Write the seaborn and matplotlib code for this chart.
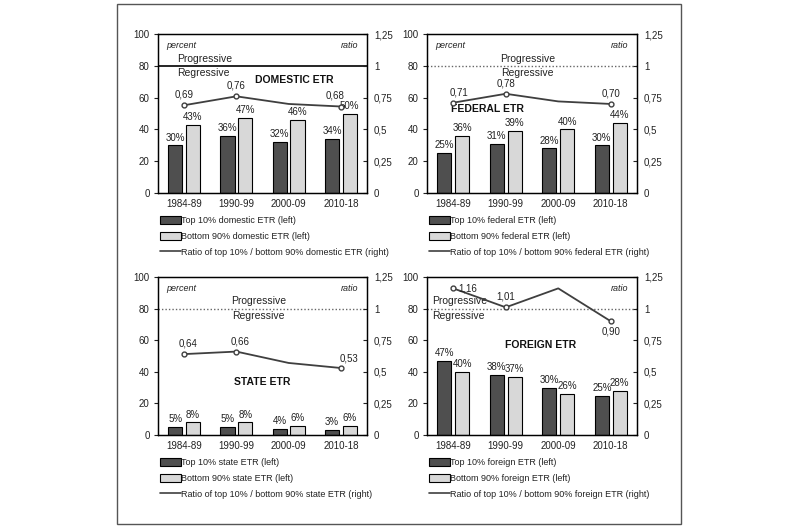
import numpy as np
import pandas as pd
import matplotlib
matplotlib.use("Agg")
import matplotlib.pyplot as plt
import seaborn as sns
from matplotlib.patches import Rectangle, Patch
from matplotlib.lines import Line2D

sns.set_theme(style="white")
plt.rcParams['font.family'] = ['Liberation Sans', 'DejaVu Sans']

periods = ["1984-89", "1990-99", "2000-09", "2010-18"]

domestic_top = [30, 36, 32, 34]
domestic_bottom = [43, 47, 46, 50]
domestic_ratio = [0.69, 0.76, 0.70, 0.68]

federal_top = [25, 31, 28, 30]
federal_bottom = [36, 39, 40, 44]
federal_ratio = [0.71, 0.78, 0.72, 0.70]

state_top = [5, 5, 4, 3]
state_bottom = [8, 8, 6, 6]
state_ratio = [0.64, 0.66, 0.57, 0.53]

foreign_top = [47, 38, 30, 25]
foreign_bottom = [40, 37, 26, 28]
foreign_ratio = [1.16, 1.01, 1.16, 0.90]

labeled_points = [0, 1, 3]

DARK = "#4f4f4f"
LIGHT = "#d8d8d8"
LINE = "#3f3f3f"

fig = plt.figure(figsize=(8, 5.3), dpi=100)
fig.patch.set_facecolor("white")
fig.add_artist(Rectangle((117/800, 1-524/530), (681-117)/800, (524-4)/530,
                         transform=fig.transFigure, fill=False,
                         edgecolor="#555555", linewidth=1.0))

panels = [
    dict(name="domestic", title="DOMESTIC ETR", top=domestic_top, bottom=domestic_bottom,
         ratio=domestic_ratio, pos=(158, 34, 367, 193), solid=True,
         title_xy=(0.65, 71), prog_x=0.09, prog_ha="left", percent=True,
         offsets=[(0, 4, "center", "bottom"), (0, 4, "center", "bottom"), None, (-4, 4, "center", "bottom")]),
    dict(name="federal", title="FEDERAL ETR", top=federal_top, bottom=federal_bottom,
         ratio=federal_ratio, pos=(427, 34, 637, 193), solid=False,
         title_xy=(0.29, 53), prog_x=0.48, prog_ha="center", percent=True,
         offsets=[(4, 4, "center", "bottom"), (0, 4, "center", "bottom"), None, (0, 4, "center", "bottom")]),
    dict(name="state", title="STATE ETR", top=state_top, bottom=state_bottom,
         ratio=state_ratio, pos=(158, 277, 367, 435), solid=False,
         title_xy=(0.5, 33.5), prog_x=0.48, prog_ha="center", percent=True,
         offsets=[(3, 4, "center", "bottom"), (3, 4, "center", "bottom"), None, (6, 3, "center", "bottom")]),
    dict(name="foreign", title="FOREIGN ETR", top=foreign_top, bottom=foreign_bottom,
         ratio=foreign_ratio, pos=(427, 277, 637, 435), solid=False,
         title_xy=(0.54, 57), prog_x=0.025, prog_ha="left", percent=False,
         offsets=[(4, 0, "left", "center"), (0, 4, "center", "bottom"), None, (0, -4, "center", "top")]),
]

def fmt_ratio(v):
    return f"{v:.2f}".replace(".", ",")

def fmt_tick(v, _=None):
    if abs(v - round(v)) < 1e-9:
        return f"{int(round(v))}"
    return f"{v:g}".replace(".", ",")

for p in panels:
    x0, y0, x1, y1 = p["pos"]
    ax = fig.add_axes([x0/800, 1-y1/530, (x1-x0)/800, (y1-y0)/530])
    df = pd.DataFrame({
        "period": periods * 2,
        "value": p["top"] + p["bottom"],
        "series": ["top"] * 4 + ["bottom"] * 4,
    })
    sns.barplot(data=df, x="period", y="value", hue="series", palette=[DARK, LIGHT],
                edgecolor="black", linewidth=0.8, width=0.68, gap=0.2, ax=ax,
                legend=False, saturation=1)
    for c in ax.containers:
        ax.bar_label(c, labels=[f"{int(v)}%" for v in c.datavalues], padding=2,
                     fontsize=7, color="#222222")
    ax.set_ylim(0, 100)
    ax.set_xlim(-0.5, 3.5)
    ax.set_yticks([0, 20, 40, 60, 80, 100])
    ax.set_xlabel("")
    ax.set_ylabel("")
    ax.tick_params(axis="y", labelsize=7, length=3, width=0.8, direction="out",
                   left=True, pad=3, colors="#222222")
    ax.tick_params(axis="x", labelsize=7, length=0, pad=4, colors="#222222")
    for s in ax.spines.values():
        s.set_color("black")
        s.set_linewidth(0.9)

    if p["solid"]:
        ax.axhline(80, color="black", linewidth=1.2, zorder=1)
    else:
        ax.axhline(80, color="#666666", linewidth=1.0, linestyle=(0, (1, 1.5)), zorder=1)

    ax.text(p["prog_x"], 84.5, "Progressive", transform=ax.get_yaxis_transform(),
            ha=p["prog_ha"], va="center", fontsize=7.5, color="#222222")
    ax.text(p["prog_x"], 75.5, "Regressive", transform=ax.get_yaxis_transform(),
            ha=p["prog_ha"], va="center", fontsize=7.5, color="#222222")
    if p["percent"]:
        ax.text(0.04, 93, "percent", transform=ax.get_yaxis_transform(),
                ha="left", va="center", fontsize=6.5, style="italic", color="#222222")
    ax.text(0.96, 93, "ratio", transform=ax.get_yaxis_transform(),
            ha="right", va="center", fontsize=6.5, style="italic", color="#222222")
    ax.text(p["title_xy"][0], p["title_xy"][1], p["title"], transform=ax.get_yaxis_transform(),
            ha="center", va="center", fontsize=7.5, fontweight="bold", color="#111111")

    ax2 = ax.twinx()
    xs = np.arange(len(periods))
    sns.lineplot(x=xs, y=p["ratio"], ax=ax2, color=LINE, linewidth=1.3)
    mx = [xs[i] for i in labeled_points]
    my = [p["ratio"][i] for i in labeled_points]
    ax2.plot(mx, my, linestyle="none", marker="o", markersize=3.5,
             markerfacecolor="white", markeredgecolor=LINE, markeredgewidth=1.0)
    for i, off in enumerate(p["offsets"]):
        if off is None:
            continue
        dx, dy, ha, va = off
        ax2.annotate(fmt_ratio(p["ratio"][i]), (xs[i], p["ratio"][i]),
                     xytext=(dx, dy), textcoords="offset points",
                     ha=ha, va=va, fontsize=7, color="#222222")
    ax2.set_ylim(0, 1.25)
    ax2.set_yticks([0, 0.25, 0.5, 0.75, 1, 1.25])
    ax2.yaxis.set_major_formatter(matplotlib.ticker.FuncFormatter(fmt_tick))
    ax2.tick_params(axis="y", labelsize=7, length=3, width=0.8, direction="in",
                    right=True, pad=5, colors="#222222")
    ax2.set_ylabel("")
    for s in ax2.spines.values():
        s.set_color("black")
        s.set_linewidth(0.9)

    n = p["name"]
    handles = [Patch(facecolor=DARK, edgecolor="black", linewidth=0.8),
               Patch(facecolor=LIGHT, edgecolor="black", linewidth=0.8),
               Line2D([0], [0], color=LINE, linewidth=1.2)]
    labels = [f"Top 10% {n} ETR (left)",
              f"Bottom 90% {n} ETR (left)",
              f"Ratio of top 10% / bottom 90% {n} ETR (right)"]
    ax2.legend(handles, labels, loc="upper left", bbox_to_anchor=(0.0, -0.135),
               frameon=False, fontsize=6.5, handlelength=2.3, handleheight=0.9,
               handletextpad=0.0, labelspacing=0.75, borderaxespad=0, borderpad=0.2,
               labelcolor="#222222")

fig.savefig("out.png", dpi=100, facecolor="white")
